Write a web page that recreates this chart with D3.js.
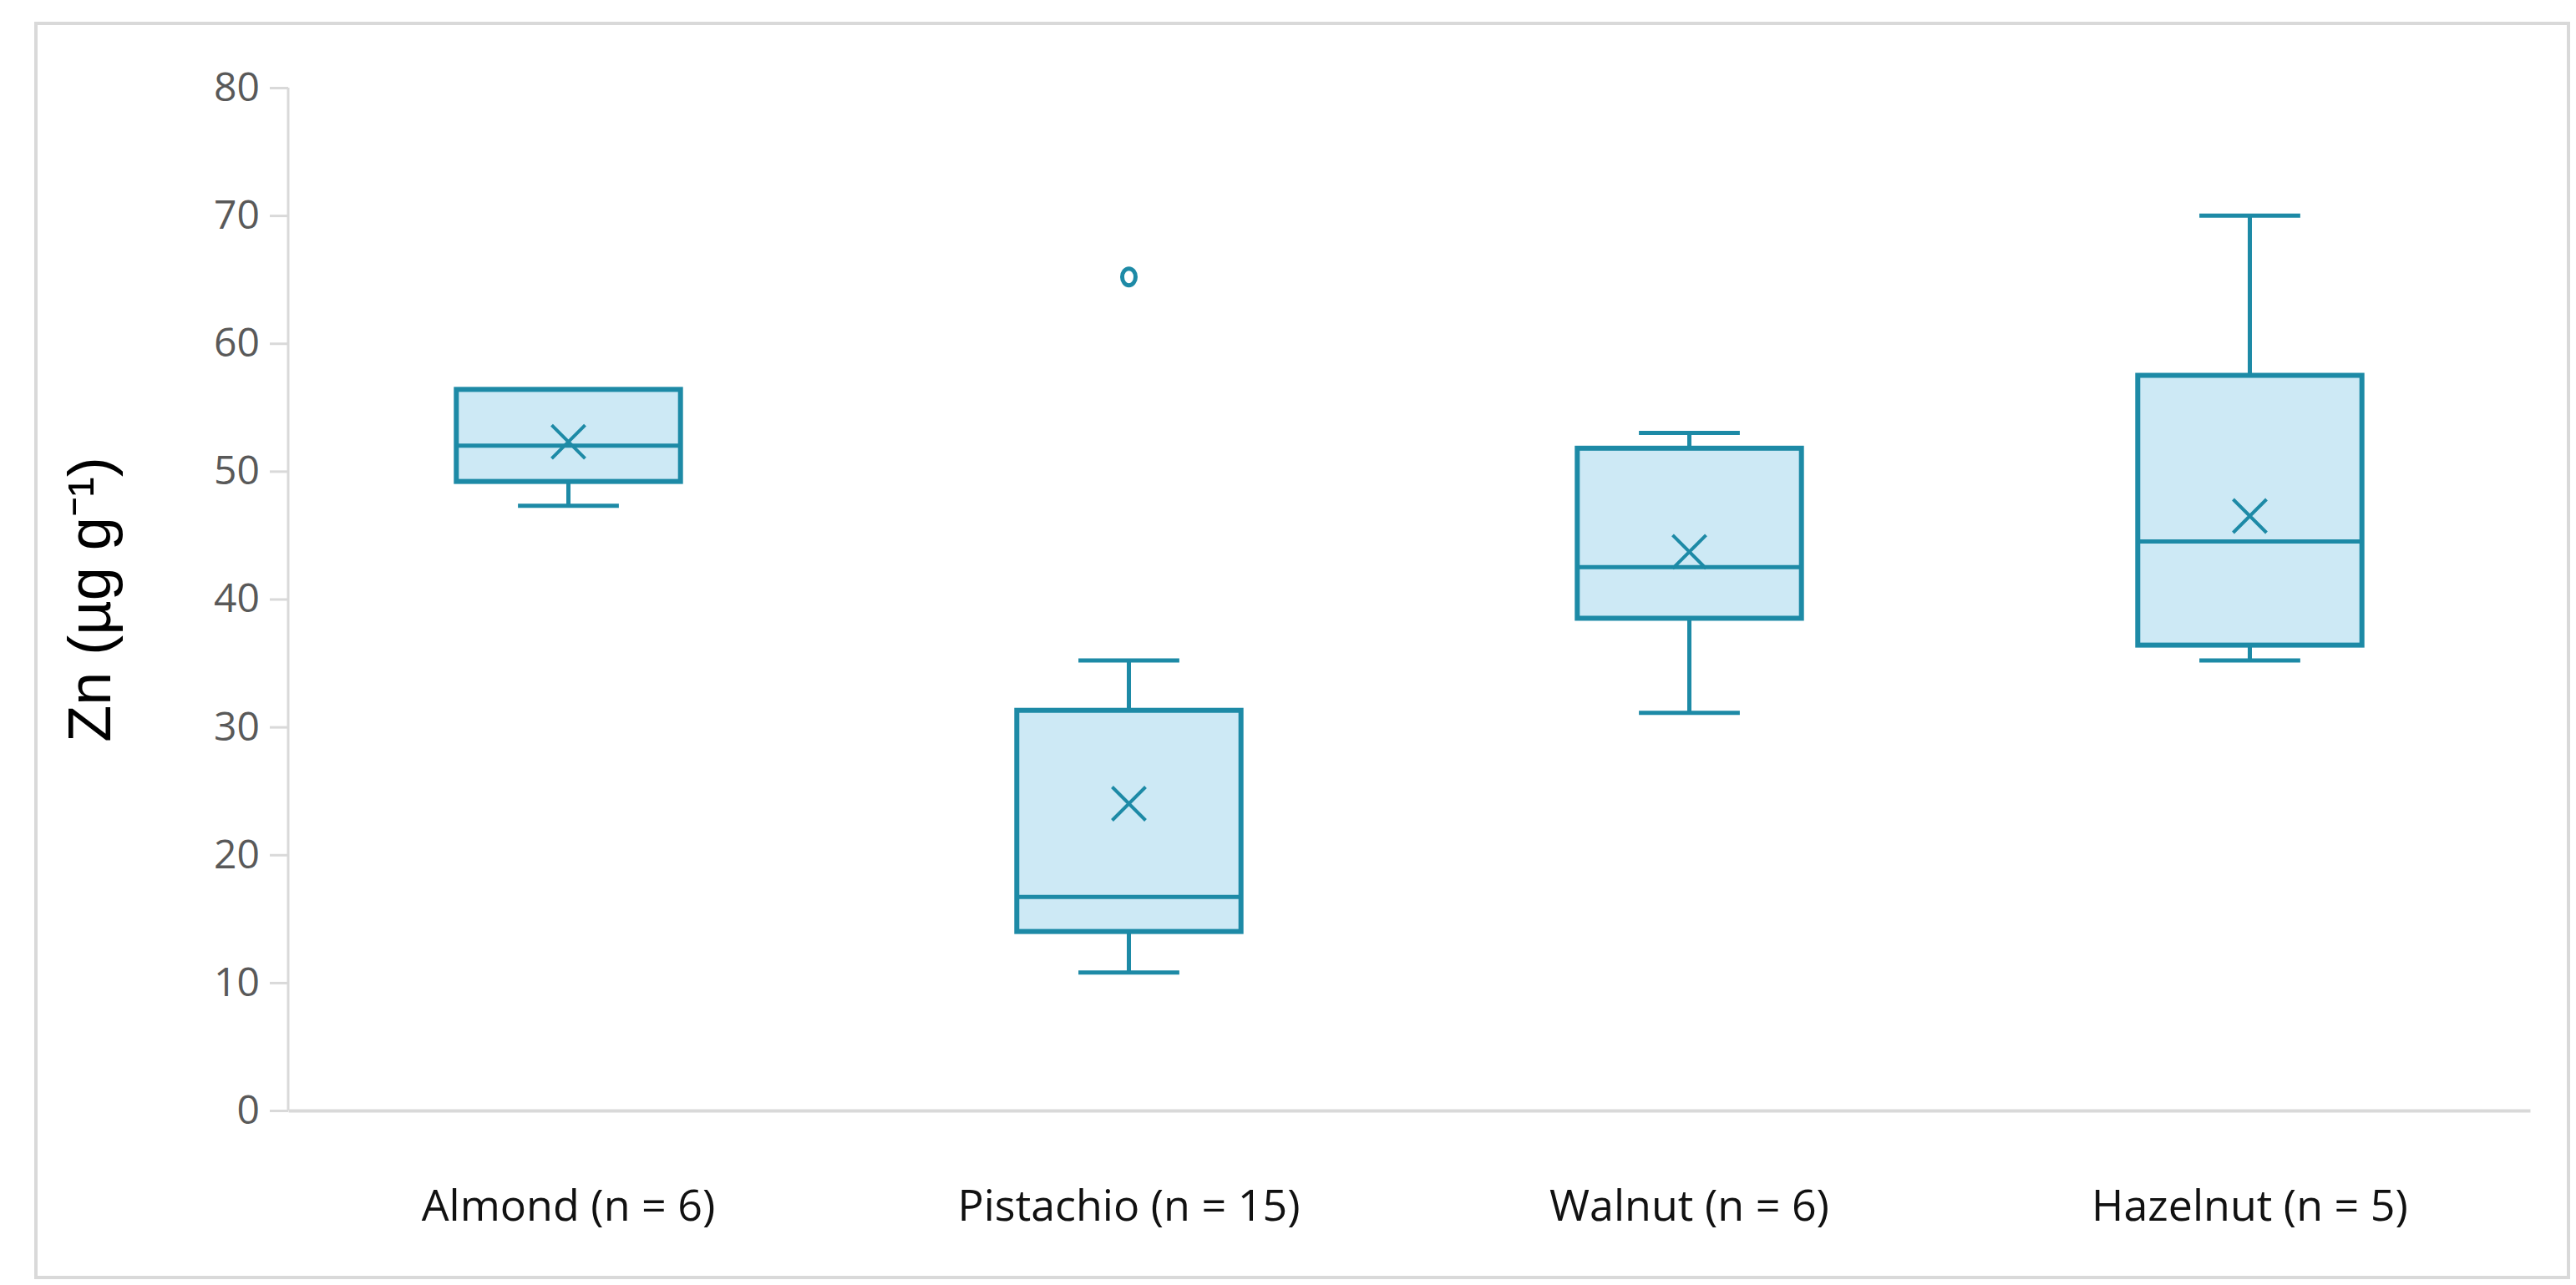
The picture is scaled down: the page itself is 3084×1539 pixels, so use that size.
<!DOCTYPE html>
<html><head><meta charset="utf-8">
<script src="https://cdn.jsdelivr.net/npm/d3@7"></script>
<style>body{margin:0;background:#fff}</style></head>
<body><svg id="c" width="3084" height="1539"></svg>
<script>
const categories = ["Almond (n = 6)", "Pistachio (n = 15)", "Walnut (n = 6)", "Hazelnut (n = 5)"];
const whiskerLow = [47.3, 10.8, 31.1, 35.2];
const q1 = [49.2, 14.0, 38.5, 36.4];
const median = [52.0, 16.7, 42.5, 44.5];
const q3 = [56.4, 31.3, 51.8, 57.5];
const whiskerHigh = [56.4, 35.2, 53.0, 70.0];
const mean = [52.3, 24.0, 43.7, 46.5];
const outliers = [[], [65.2], [], []];
const yTicks = [0, 10, 20, 30, 40, 50, 60, 70, 80];

const svg = d3.select("#c");
const stroke = "#1d8aa6", fill = "#cde9f5";
svg.append("rect").attr("x", 43).attr("y", 28).attr("width", 3032).attr("height", 1502)
  .attr("fill", "none").attr("stroke", "#d9d9d9").attr("stroke-width", 4);

const x = d3.scaleBand().domain(categories).range([345, 3029]);
const y = d3.scaleLinear().domain([0, 80]).range([1330, 105]);

const yAx = svg.append("g").attr("transform", "translate(345,0)")
  .call(d3.axisLeft(y).tickValues(yTicks).tickSize(22).tickPadding(12));
yAx.select(".domain").attr("stroke", "#d9d9d9").attr("stroke-width", 3).attr("d", "M0,105V1330");
yAx.selectAll(".tick line").attr("stroke", "#d9d9d9").attr("stroke-width", 3);
yAx.selectAll("text").attr("fill", "#595959").style("font-family", "Open Sans").style("font-size", "48px");

const xAx = svg.append("g").attr("transform", "translate(0,1330)")
  .call(d3.axisBottom(x).tickSize(0).tickPadding(95));
xAx.select(".domain").attr("stroke", "#d9d9d9").attr("stroke-width", 4);
xAx.selectAll("text").attr("fill", "#111").style("font-family", "Open Sans").style("font-size", "52px");

svg.append("text").attr("transform", "translate(132,718) rotate(-90)").attr("text-anchor", "middle")
  .style("font-family", "Liberation Sans").style("font-size", "72px").attr("fill", "#000")
  .text("Zn (µg g⁻¹)");

const bw = x.bandwidth() * 0.4, cw = x.bandwidth() * 0.09;
categories.forEach((c, i) => {
  const cx = x(c) + x.bandwidth() / 2;
  const g = svg.append("g").attr("stroke", stroke).attr("stroke-width", 5).attr("fill", "none");
  g.append("line").attr("x1", cx).attr("x2", cx).attr("y1", y(whiskerLow[i])).attr("y2", y(q1[i]));
  g.append("line").attr("x1", cx).attr("x2", cx).attr("y1", y(q3[i])).attr("y2", y(whiskerHigh[i]));
  g.append("line").attr("x1", cx - cw).attr("x2", cx + cw).attr("y1", y(whiskerLow[i])).attr("y2", y(whiskerLow[i]));
  if (whiskerHigh[i] > q3[i])
    g.append("line").attr("x1", cx - cw).attr("x2", cx + cw).attr("y1", y(whiskerHigh[i])).attr("y2", y(whiskerHigh[i]));
  g.append("rect").attr("x", cx - bw / 2).attr("width", bw).attr("y", y(q3[i]))
    .attr("height", y(q1[i]) - y(q3[i])).attr("fill", fill).attr("stroke-width", 6);
  g.append("line").attr("x1", cx - bw / 2).attr("x2", cx + bw / 2).attr("y1", y(median[i])).attr("y2", y(median[i]));
  const m = 20, my = y(mean[i]);
  g.append("path").attr("d", `M${cx - m},${my - m}L${cx + m},${my + m}M${cx - m},${my + m}L${cx + m},${my - m}`).attr("stroke-width", 4);
  outliers[i].forEach(o => g.append("ellipse").attr("cx", cx).attr("cy", y(o)).attr("rx", 8).attr("ry", 10).attr("stroke-width", 5));
});
</script></body></html>
